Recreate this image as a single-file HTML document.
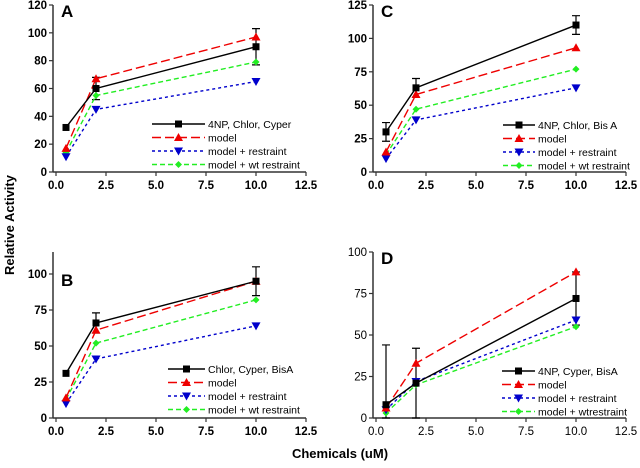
<!DOCTYPE html>
<html><head><meta charset="utf-8"><style>
body{margin:0;background:#fff;width:640px;height:463px;overflow:hidden}
svg{font-family:"Liberation Sans",Arial,sans-serif}
</style></head><body>
<svg id="chart" width="640" height="463" xmlns="http://www.w3.org/2000/svg">
<text x="0" y="0" transform="translate(14,225) rotate(-90)" text-anchor="middle" font-weight="bold" font-size="13">Relative Activity</text>
<text x="340" y="458" text-anchor="middle" font-weight="bold" font-size="13">Chemicals (uM)</text>
</svg>
<script>
const xVals=[0.5,2,10];
const xTicks=[0,2.5,5,7.5,10,12.5];
const aBlack=[32,60,90], aBlackErr=[0,8,13], aRed=[17,67,97], aBlue=[11,45,65], aGreen=[14,55,79];
const cBlack=[30,63,110], cBlackErr=[7,7,7], cRed=[15,58,93], cBlue=[10,39,63], cGreen=[13,47,77];
const bBlack=[31,66,95], bBlackErr=[0,7,10], bRed=[14,61,95], bBlue=[10,41,64], bGreen=[13,52,82];
const dBlack=[8,21,72], dBlackErr=[36,21,16], dRed=[6,33,88], dBlue=[5,22,59], dGreen=[3,20,55];
const aTicks=[0,20,40,60,80,100,120], cTicks=[0,25,50,75,100,125], bTicks=[0,25,50,75,100], dTicks=[0,25,50,75,100];
const aLegend=["4NP, Chlor, Cyper","model","model + restraint","model + wt restraint"];
const cLegend=["4NP, Chlor, Bis A","model","model + restraint","model + wt restraint"];
const bLegend=["Chlor, Cyper, BisA","model","model + restraint","model + wt restraint"];
const dLegend=["4NP, Cyper, BisA","model","model + restraint","model + wtrestraint"];
const NS="http://www.w3.org/2000/svg", svg=document.getElementById('chart');
function mk(t,a,p){const e=document.createElementNS(NS,t);for(const k in a)e.setAttribute(k,a[k]);(p||svg).appendChild(e);return e;}
const styles=[{c:"#000",d:"",m:"sq"},{c:"#e00",d:"9,4",m:"up"},{c:"#00c",d:"3,3",m:"dn"},{c:"#2e2",d:"5,3",m:"di"}];
function marker(g,m,x,y,c){
  let e;
  if(m==="sq")e=mk('rect',{x:x-3.5,y:y-3.5,width:7,height:7,fill:c},g);
  else if(m==="up")e=mk('polygon',{points:`${x},${y-4.5} ${x-4.5},${y+3.5} ${x+4.5},${y+3.5}`,fill:c},g);
  else if(m==="dn")e=mk('polygon',{points:`${x},${y+4.5} ${x-4.5},${y-3.5} ${x+4.5},${y-3.5}`,fill:c},g);
  else e=mk('polygon',{points:`${x},${y-3.5} ${x+3.5},${y} ${x},${y+3.5} ${x-3.5},${y}`,fill:c},g);
  
  
}
function panel(o){
  const g=mk('g',{});
  
  
  const X=v=>o.x0+v*20, Y=v=>o.y0-(v/o.ymax)*(o.y0-o.ytop);
  const ax=o.x0-3;
  const yl=mk('line',{x1:ax,y1:o.axTop,x2:ax,y2:o.y0,stroke:"#333","stroke-width":1.5},g);
  
  const xl=mk('line',{x1:ax,y1:o.y0,x2:X(12.5),y2:o.y0,stroke:"#333","stroke-width":1.5},g);
  
  const fw=o.bold?"bold":"normal";
  o.yt.forEach(v=>{mk('line',{x1:ax-4,y1:Y(v),x2:ax,y2:Y(v),stroke:"#333","stroke-width":1.2},g);
    const t=mk('text',{x:ax-6,y:Y(v)+4,"text-anchor":"end","font-size":11.5,"font-weight":fw},g);t.textContent=v;
    });
  xTicks.forEach(v=>{mk('line',{x1:X(v),y1:o.y0,x2:X(v),y2:o.y0+4,stroke:"#333","stroke-width":1.2},g);
    const t=mk('text',{x:X(v),y:o.y0+17,"text-anchor":"middle","font-size":11.5,"font-weight":fw},g);t.textContent=v.toFixed(1);
    });
  const lt=mk('text',{x:ax+8,y:o.ytop+12,"font-size":17,"font-weight":"bold"},g);lt.textContent=o.label;
  
  o.series[0].forEach((v,i)=>{const e=o.err[i];if(!e)return;const x=X(xVals[i]);const lo=Math.max(0,v-e);
    const b=mk('path',{d:`M${x},${Y(lo)}V${Y(v+e)}M${x-4},${Y(v+e)}H${x+4}M${x-4},${Y(lo)}H${x+4}`,stroke:"#000","stroke-width":1.2,fill:"none"},g);
    });
  [3,2,1,0].forEach(si=>{const s=o.series[si],st=styles[si];
    const p=mk('polyline',{points:s.map((v,i)=>X(xVals[i])+","+Y(v)).join(" "),fill:"none",stroke:st.c,"stroke-width":1.4,"stroke-dasharray":st.d},g);
    
    s.forEach((v,i)=>marker(g,st.m,X(xVals[i]),Y(v),st.c));});
  o.legend.forEach((txt,i)=>{const y=o.ly+i*13.5,st=styles[i];
    const l=mk('line',{x1:o.lx,y1:y,x2:o.lx+o.lw,y2:y,stroke:st.c,"stroke-width":1.4,"stroke-dasharray":st.d},g);
    
    marker(g,st.m,o.lx+o.lw/2,y,st.c);
    const t=mk('text',{x:o.lx+o.lw+3,y:y+4,"font-size":10.5},g);t.textContent=txt;
    });
}
panel({label:"A",x0:56,y0:172,ytop:5,axTop:5,ymax:120,yt:aTicks,bold:true,series:[aBlack,aRed,aBlue,aGreen],err:aBlackErr,legend:aLegend,lx:152,lw:53,ly:124});
panel({label:"C",x0:376,y0:172,ytop:5,axTop:5,ymax:125,yt:cTicks,bold:true,series:[cBlack,cRed,cBlue,cGreen],err:cBlackErr,legend:cLegend,lx:503,lw:32,ly:125});
panel({label:"B",x0:56,y0:418,ytop:274,axTop:252,ymax:100,yt:bTicks,bold:true,series:[bBlack,bRed,bBlue,bGreen],err:bBlackErr,legend:bLegend,lx:168,lw:37,ly:369});
panel({label:"D",x0:376,y0:418,ytop:252,axTop:252,ymax:100,yt:dTicks,bold:false,series:[dBlack,dRed,dBlue,dGreen],err:dBlackErr,legend:dLegend,lx:502,lw:33,ly:371});
</script>
</body></html>
